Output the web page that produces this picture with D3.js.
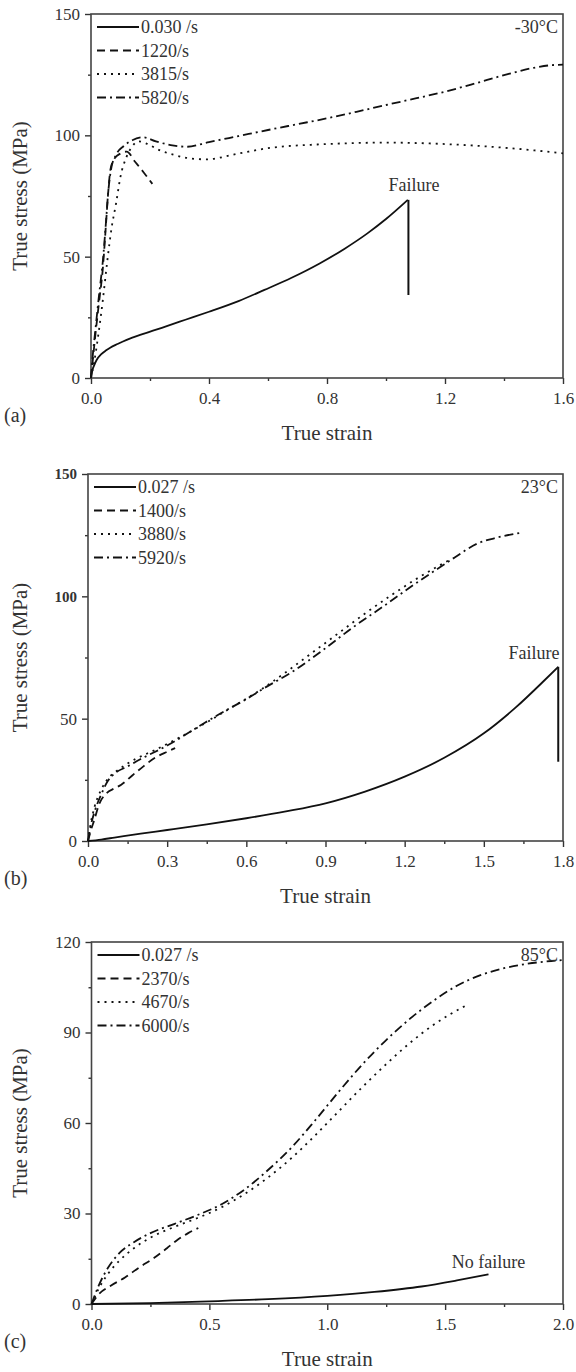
<!DOCTYPE html>
<html>
<head>
<meta charset="utf-8">
<script src="https://cdn.jsdelivr.net/npm/d3@7"></script>
<style>
  body { margin: 0; background: #fff; }
  svg { display: block; }
  text { font-family: "Liberation Serif", "Times New Roman", serif; fill: #333; }
</style>
</head>
<body>
<div id="chart"></div>
<script>
// (a) -30°C  -- [true strain, true stress MPa]
const ratesA = ['0.030 /s', '1220/s', '3815/s', '5820/s']
const a0030 = [[0,0],[0.004,3],[0.01,5],[0.019,7.4],[0.035,9.8],[0.05,11.3],[0.065,12.5],[0.09,14],[0.121,15.7],[0.18,18.3],[0.252,21.2],[0.32,24],[0.4,27.3],[0.5,31.7],[0.588,36.3],[0.68,41.3],[0.775,47.2],[0.86,53.3],[0.937,59.6],[1.0,65.5],[1.074,73.4]]
const a1220 = [[0,0],[0.005,6],[0.015,18],[0.028,32],[0.04,45],[0.05,62],[0.058,76],[0.066,86],[0.08,90.5],[0.1,92.5],[0.121,93.3],[0.15,89],[0.18,84.5],[0.208,80]]
const a3815 = [[0,0],[0.01,6],[0.025,18],[0.04,32],[0.055,48],[0.07,62],[0.085,72],[0.1,83],[0.12,91],[0.14,95.5],[0.16,97.5],[0.19,96.5],[0.23,94],[0.28,92],[0.33,90.6],[0.39,90.1],[0.5,92.5],[0.6,94.7],[0.8,96.4],[1.0,97.0],[1.2,96.4],[1.4,94.9],[1.6,92.6]]
const a5820 = [[0,0],[0.005,8],[0.015,20],[0.028,35],[0.04,48],[0.05,63],[0.058,76],[0.068,86],[0.085,92],[0.11,95.5],[0.14,98],[0.177,99.2],[0.22,97.5],[0.27,96],[0.326,95.3],[0.4,97.2],[0.5,99.7],[0.6,102.2],[0.7,104.6],[0.8,107],[0.9,109.7],[1.0,112.5],[1.1,115.2],[1.2,118],[1.3,121.3],[1.4,124.8],[1.5,127.8],[1.56,128.9],[1.6,129.1]]
const dropA = [[1.076,73.4],[1.076,34.2]]

// (b) 23°C
const ratesB = ['0.027 /s', '1400/s', '3880/s', '5920/s']
const b0027 = [[0,0],[0.05,0.6],[0.1,1.4],[0.2,3],[0.3,4.5],[0.45,6.8],[0.6,9.3],[0.75,12.1],[0.9,15.4],[1.05,20.2],[1.2,26.3],[1.35,34],[1.5,44],[1.62,54.5],[1.731,65.8],[1.782,71.2]]
const b1400 = [[0,0],[0.01,4],[0.025,9],[0.042,15],[0.07,19.5],[0.1,21.5],[0.126,23],[0.17,27],[0.21,30.5],[0.251,33.8],[0.3,36.5],[0.33,38]]
const b3880 = [[0,0],[0.01,7],[0.025,14],[0.05,21],[0.08,26],[0.12,29.5],[0.18,33.5],[0.25,37],[0.35,42.5],[0.45,48.5],[0.55,55],[0.65,61.5],[0.75,69],[0.85,77],[0.95,85],[1.05,93],[1.15,100.5],[1.25,107.5],[1.33,112.5],[1.38,115.5]]
const b5920 = [[0,0],[0.01,6],[0.025,12],[0.05,19],[0.075,24.5],[0.1,27.5],[0.15,30.5],[0.2,33.5],[0.3,39],[0.418,46.7],[0.5,52],[0.6,58],[0.668,62.5],[0.779,69.5],[0.89,78],[1.0,87],[1.127,96.5],[1.238,105],[1.335,112],[1.391,116],[1.474,121.5],[1.55,124],[1.641,126]]
const dropB = [[1.782,71.2],[1.782,32.4]]

// (c) 85°C
const ratesC = ['0.027 /s', '2370/s', '4670/s', '6000/s']
const c0027 = [[0,0],[0.25,0.3],[0.5,0.9],[0.75,1.6],[1.0,2.7],[1.2,4],[1.4,5.8],[1.55,7.8],[1.684,9.8]]
const c2370 = [[0,0],[0.03,3.2],[0.08,6],[0.142,8.8],[0.2,12],[0.266,15.3],[0.32,18.5],[0.36,21],[0.41,23.5],[0.453,25.2]]
const c4670 = [[0,0],[0.03,5],[0.07,10],[0.12,14.5],[0.18,18.5],[0.25,22],[0.35,25.5],[0.45,28.5],[0.55,32],[0.65,36.5],[0.75,42],[0.85,48.5],[0.95,56],[1.05,64],[1.15,72],[1.25,79.5],[1.35,86.5],[1.45,92.5],[1.52,96],[1.59,99]]
const c6000 = [[0,0],[0.03,6],[0.07,12],[0.12,17],[0.18,20.5],[0.25,23.5],[0.35,26.5],[0.45,29.5],[0.55,33],[0.65,38],[0.75,44.5],[0.85,52],[0.95,61],[1.05,70.5],[1.15,79.5],[1.25,87.5],[1.35,94.5],[1.45,100.5],[1.55,105.5],[1.65,109],[1.75,111.3],[1.85,112.8],[1.95,113.7],[2.0,114]]

const xTicksA = [0, 0.4, 0.8, 1.2, 1.6]
const xTicksB = [0, 0.3, 0.6, 0.9, 1.2, 1.5, 1.8]
const xTicksC = [0, 0.5, 1.0, 1.5, 2.0]
const yTicksAB = [0, 50, 100, 150]
const yTicksC = [0, 30, 60, 90, 120]

const DASHES = [null, '8,5', '2,5', '9,4,2,4']

const svg = d3.select('#chart').append('svg')
  .attr('width', 576)
  .attr('height', 1372)

const panels = [
  { tag: '(a)', box: [91, 14, 563, 378], xTicks: xTicksA, yTicks: yTicksAB,
    rates: ratesA, series: [a0030, a1220, a3815, a5820], drop: dropA, temp: '-30°C',
    note: { text: 'Failure', at: [1.095, 77] } },
  { tag: '(b)', box: [88, 474, 563, 841], xTicks: xTicksB, yTicks: yTicksAB,
    rates: ratesB, series: [b0027, b1400, b3880, b5920], drop: dropB, temp: '23°C',
    note: { text: 'Failure', at: [1.69, 74.5] }, sansTop: true },
  { tag: '(c)', box: [91.5, 942, 563, 1304], xTicks: xTicksC, yTicks: yTicksC,
    rates: ratesC, series: [c0027, c2370, c4670, c6000], drop: null, temp: '85°C',
    note: { text: 'No failure', at: [1.684, 12] } }
]

const midpoints = t => t.slice(1).map((v, i) => (v + t[i]) / 2)

panels.forEach(p => {
  const [x0, y0, x1, y1] = p.box
  const xMax = p.xTicks[p.xTicks.length - 1]
  const yMax = p.yTicks[p.yTicks.length - 1]
  const x = d3.scaleLinear().domain([0, xMax]).range([x0, x1])
  const y = d3.scaleLinear().domain([0, yMax]).range([y1, y0])
  const g = svg.append('g')

  // minor ticks
  g.append('g').attr('transform', `translate(0,${y1})`)
    .call(d3.axisBottom(x).tickValues(midpoints(p.xTicks)).tickSize(3).tickFormat(''))
  g.append('g').attr('transform', `translate(${x0},0)`)
    .call(d3.axisLeft(y).tickValues(midpoints(p.yTicks)).tickSize(3).tickFormat(''))

  // major ticks
  g.append('g').attr('transform', `translate(0,${y1})`)
    .call(d3.axisBottom(x).tickValues(p.xTicks).tickSize(6).tickPadding(8).tickFormat(d3.format('.1f')))
  const ya = g.append('g').attr('transform', `translate(${x0},0)`)
    .call(d3.axisLeft(y).tickValues(p.yTicks).tickSize(6).tickPadding(5).tickFormat(d3.format('d')))

  g.selectAll('.domain').remove()
  g.selectAll('.tick line').attr('stroke', '#333').attr('stroke-width', 1.4)
  g.selectAll('.tick text').attr('font-size', 17).attr('fill', '#333')
    .attr('font-family', '"Liberation Serif", serif')
  if (p.sansTop) {
    ya.selectAll('.tick text').filter(d => d >= 100)
      .attr('font-family', '"Liberation Sans", Arial, sans-serif')
      .attr('font-size', 15).attr('font-weight', 'bold').attr('fill', '#222')
  }

  // frame
  g.append('rect')
    .attr('x', x0).attr('y', y0)
    .attr('width', x1 - x0).attr('height', y1 - y0)
    .attr('fill', 'none').attr('stroke', '#444').attr('stroke-width', 1.6)

  // curves
  const line = d3.line().x(d => x(d[0])).y(d => y(d[1])).curve(d3.curveMonotoneX)
  p.series.forEach((s, i) => {
    g.append('path').datum(s)
      .attr('d', line)
      .attr('fill', 'none')
      .attr('stroke', '#111')
      .attr('stroke-width', 1.8)
      .attr('stroke-dasharray', DASHES[i])
  })
  if (p.drop) {
    g.append('path').datum(p.drop)
      .attr('d', d3.line().x(d => x(d[0])).y(d => y(d[1])))
      .attr('fill', 'none').attr('stroke', '#111').attr('stroke-width', 2)
  }

  // legend
  p.rates.forEach((r, i) => {
    const ly = y0 + 13 + i * 23.5
    g.append('line')
      .attr('x1', x0 + 6).attr('x2', x0 + 48)
      .attr('y1', ly).attr('y2', ly)
      .attr('stroke', '#111').attr('stroke-width', 1.8)
      .attr('stroke-dasharray', DASHES[i])
    g.append('text')
      .attr('x', x0 + 50).attr('y', ly + 6)
      .attr('font-size', 18)
      .text(r)
  })

  g.append('text')
    .attr('x', x1 - 5).attr('y', y0 + 19)
    .attr('text-anchor', 'end').attr('font-size', 18)
    .text(p.temp)

  g.append('text')
    .attr('x', x(p.note.at[0])).attr('y', y(p.note.at[1]))
    .attr('text-anchor', 'middle').attr('font-size', 18)
    .text(p.note.text)

  // axis titles
  g.append('text')
    .attr('transform', `translate(27,${(y0 + y1) / 2}) rotate(-90)`)
    .attr('text-anchor', 'middle').attr('font-size', 21)
    .text('True stress (MPa)')
  g.append('text')
    .attr('x', (x0 + x1) / 2).attr('y', y1 + 62)
    .attr('text-anchor', 'middle').attr('font-size', 21)
    .text('True strain')
  g.append('text')
    .attr('x', 4).attr('y', y1 + 44)
    .attr('font-size', 20)
    .text(p.tag)
})
</script>
</body>
</html>
